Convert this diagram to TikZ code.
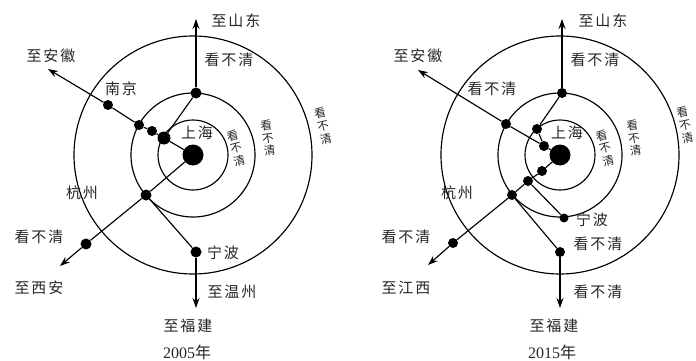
\documentclass[tikz,border=0pt]{standalone}
\usepackage{fontspec}
\setmainfont{Liberation Serif}
\newfontfamily\cjk[LetterSpace=12]{Noto Sans CJK SC}
\newfontfamily\cjkv{Noto Sans CJK SC}
\usetikzlibrary{arrows.meta}
\begin{document}
\begin{tikzpicture}[x=1pt,y=-1pt,
  ring/.style={line width=1.15pt},
  link/.style={line width=1.15pt},
  arr/.style={line width=1.15pt,-{Stealth[length=10pt,width=7pt]}},
  dot/.style={circle,fill=black,inner sep=0pt,minimum size=10pt},
  mdot/.style={dot,minimum size=11pt},
  bigdot/.style={dot,minimum size=21pt},
  lab/.style={font=\cjk\fontsize{15}{15}\selectfont,inner sep=0pt,text=black!85},
  yr/.style={font=\cjk\fontsize{16}{16}\selectfont,inner sep=0pt,text=black!85},
  vlab/.style={font=\cjkv\fontsize{11.5}{13}\selectfont,align=center,inner sep=0pt,text=black!85}
]
\useasboundingbox (0,0) rectangle (696,361);
% ---------- left: 2005 ----------
\foreach \r in {35,62,119} \draw[ring] (193,155) circle[radius=\r];
\node[bigdot] (S1) at (193,155) {};
\node[mdot] (N1) at (196,93) {};
\node[dot,minimum size=13pt] (A1) at (164,138) {};
\node[dot] (B1) at (152,131) {};
\node[dot] (C1) at (139,125) {};
\node[dot] (J1) at (108,105) {};
\node[mdot] (H1) at (146,195) {};
\node[mdot] (W1) at (86,244) {};
\node[mdot] (G1) at (196,252) {};
\coordinate (tN1) at (196,19);
\coordinate (tA1) at (48,69);
\coordinate (tW1) at (60,266);
\coordinate (tS1) at (196,308);
\draw[arr] (N1) -- (tN1);
\draw[link] (N1) -- (A1);
\draw[link] (S1) -- (A1) -- (B1) -- (C1) -- (J1);
\draw[arr] (J1) -- (tA1);
\draw[link] (S1) -- (H1) -- (W1);
\draw[arr] (W1) -- (tW1);
\draw[link] (H1) -- (G1);
\draw[arr] (G1) -- (tS1);
\node[lab] (l1a) at (236,21) {至山东};
\node[lab] (l1b) at (229,60) {看不清};
\node[lab] (l1c) at (51,56) {至安徽};
\node[lab] (l1d) at (121,89) {南京};
\node[lab] (l1e) at (197,133) {上海};
\node[lab] (l1f) at (82,193) {杭州};
\node[lab] (l1g) at (39,237) {看不清};
\node[lab] (l1h) at (39,288) {至西安};
\node[lab] (l1i) at (223,253) {宁波};
\node[lab] (l1j) at (232,292) {至温州};
\node[lab] (l1k) at (188,326) {至福建};
\node[yr] (l1l) at (187,352) {{\rmfamily 2005}年};
\node[vlab,rotate=15] (v1a) at (236,148) {看\\不\\清};
\node[vlab,rotate=8] (v1b) at (268,138) {看\\不\\清};
\node[vlab,rotate=13] (v1c) at (323,126) {看\\不\\清};
% ---------- right: 2015 ----------
\foreach \r in {35,62,119} \draw[ring] (560,155) circle[radius=\r];
\node[bigdot] (S2) at (560,155) {};
\node[dot] (N2) at (562,93) {};
\node[dot] (P2) at (537,129) {};
\node[dot] (Q2) at (544,146) {};
\node[dot] (W2) at (506,124) {};
\node[dot] (D1) at (542,171) {};
\node[dot] (D2) at (528,181) {};
\node[dot] (H2) at (512,195) {};
\node[dot] (X2) at (453,243) {};
\node[dot,minimum size=9pt] (G2) at (564,218) {};
\node[dot] (E2) at (560,252) {};
\coordinate (tN2) at (562,19);
\coordinate (tA2) at (418,70);
\coordinate (tX2) at (428,265);
\coordinate (tS2) at (560,308);
\draw[arr] (N2) -- (tN2);
\draw[link] (N2) -- (P2) -- (Q2) -- (S2);
\draw[link] (Q2) -- (W2);
\draw[arr] (W2) -- (tA2);
\draw[link] (S2) -- (D1) -- (D2) -- (H2) -- (X2);
\draw[arr] (X2) -- (tX2);
\draw[link] (D2) -- (G2);
\draw[link] (H2) -- (E2);
\draw[arr] (E2) -- (tS2);
\node[lab] (l2a) at (603,21) {至山东};
\node[lab] (l2b) at (595,60) {看不清};
\node[lab] (l2c) at (418,56) {至安徽};
\node[lab] (l2d) at (492,89) {看不清};
\node[lab] (l2e) at (567,133) {上海};
\node[lab] (l2f) at (457,193) {杭州};
\node[lab] (l2g) at (592,220) {宁波};
\node[lab] (l2h) at (598,244) {看不清};
\node[lab] (l2i) at (406,237) {看不清};
\node[lab] (l2j) at (406,288) {至江西};
\node[lab] (l2k) at (598,292) {看不清};
\node[lab] (l2l) at (554,326) {至福建};
\node[yr] (l2m) at (552,352) {{\rmfamily 2015}年};
\node[vlab,rotate=15] (v2a) at (605,148) {看\\不\\清};
\node[vlab,rotate=8] (v2b) at (634,138) {看\\不\\清};
\node[vlab,rotate=12] (v2c) at (685,125) {看\\不\\清};
\end{tikzpicture}
\end{document}
